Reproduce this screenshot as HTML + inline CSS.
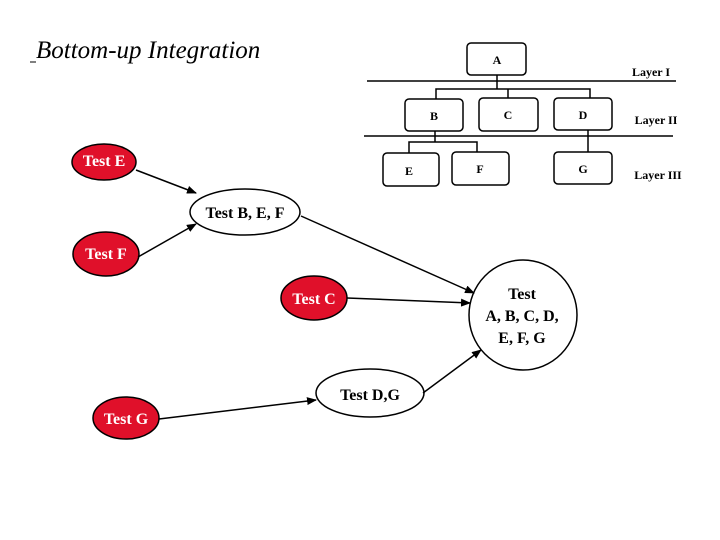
<!DOCTYPE html>
<html><head><meta charset="utf-8"><style>
html,body{margin:0;padding:0;background:#fff;width:720px;height:540px;overflow:hidden}
svg text{font-family:"Liberation Serif",serif;font-weight:bold}
</style></head><body>
<svg width="720" height="540" viewBox="0 0 720 540" xmlns="http://www.w3.org/2000/svg">
<defs><marker id="ah" markerWidth="10" markerHeight="8" refX="9" refY="4" orient="auto" markerUnits="userSpaceOnUse"><path d="M0,0 L10,4 L0,8 z" fill="#000"/></marker></defs>
<text x="36" y="58" font-size="25" font-style="italic" style="font-weight:normal">Bottom-up Integration</text>
<line x1="30" y1="62" x2="36" y2="62" stroke="#000" stroke-width="1"/>
<g fill="#fff" stroke="#000" stroke-width="1.5">
<rect x="467" y="43" width="59" height="32" rx="4"/>
<rect x="405" y="99" width="58" height="32" rx="4"/>
<rect x="479" y="98" width="59" height="33" rx="4"/>
<rect x="554" y="98" width="58" height="32" rx="4"/>
<rect x="383" y="153" width="56" height="33" rx="4"/>
<rect x="452" y="152" width="57" height="33" rx="4"/>
<rect x="554" y="152" width="58" height="32" rx="4"/>
</g>
<g stroke="#000" stroke-width="1.5" fill="none">
<line x1="367" y1="81" x2="676" y2="81"/>
<line x1="364" y1="136" x2="673" y2="136"/>
<path d="M497 75 V89 M436 99 V89 H590 V98 M508 89 V98"/>
<path d="M435 131 V142 M409 153 V142 H477 V152"/>
<line x1="588" y1="130" x2="588" y2="152"/>
</g>
<g font-size="12" text-anchor="middle">
<text x="497" y="64">A</text><text x="434" y="120">B</text><text x="508" y="119">C</text><text x="583" y="119">D</text>
<text x="409" y="175">E</text><text x="480" y="173">F</text><text x="583" y="173">G</text>
<text x="651" y="76">Layer I</text><text x="656" y="124">Layer II</text><text x="658" y="179">Layer III</text>
</g>
<g stroke="#000" stroke-width="1.5">
<ellipse cx="104" cy="162" rx="32" ry="18" fill="#e0102a"/>
<ellipse cx="106" cy="254" rx="33" ry="22" fill="#e0102a"/>
<ellipse cx="314" cy="298" rx="33" ry="22" fill="#e0102a"/>
<ellipse cx="126" cy="418" rx="33" ry="21" fill="#e0102a"/>
<ellipse cx="245" cy="212" rx="55" ry="23" fill="#fff"/>
<ellipse cx="523" cy="315" rx="54" ry="55" fill="#fff"/>
<ellipse cx="370" cy="393" rx="54" ry="24" fill="#fff"/>
</g>
<g stroke="#000" stroke-width="1.5" marker-end="url(#ah)">
<line x1="136" y1="170" x2="196" y2="193"/>
<line x1="138" y1="257" x2="196" y2="224"/>
<line x1="301" y1="216" x2="474" y2="293"/>
<line x1="347" y1="298" x2="470" y2="303"/>
<line x1="159" y1="419" x2="316" y2="400"/>
<line x1="423" y1="393" x2="481" y2="350"/>
</g>
<g font-size="16" text-anchor="middle">
<text x="104" y="166" fill="#fff">Test E</text>
<text x="106" y="259" fill="#fff">Test F</text>
<text x="314" y="304" fill="#fff">Test C</text>
<text x="126" y="424" fill="#fff">Test G</text>
<text x="245" y="218">Test B, E, F</text>
<text x="370" y="400">Test D,G</text>
<text x="522" y="299">Test</text>
<text x="522" y="321">A, B, C, D,</text>
<text x="522" y="343">E, F, G</text>
</g>
</svg>
</body></html>
